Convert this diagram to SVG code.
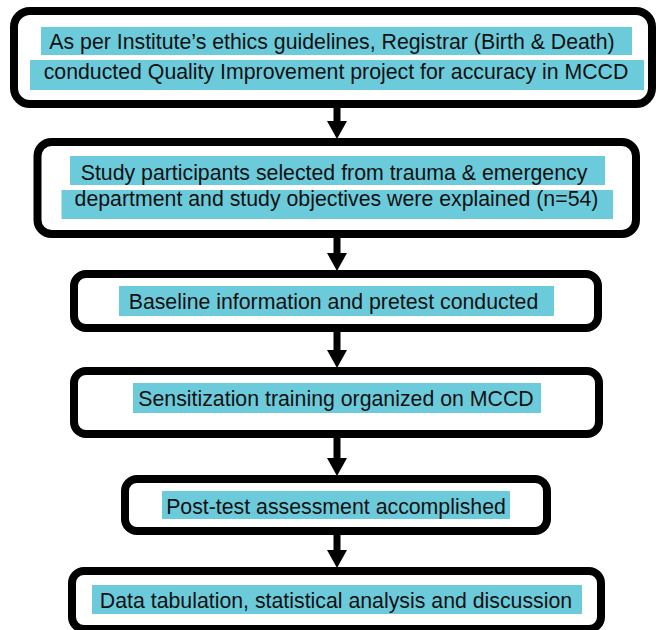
<svg xmlns="http://www.w3.org/2000/svg" width="656" height="630" viewBox="0 0 656 630">
<style>
.box{fill:#fff;stroke:#000;stroke-width:8}
.hl{fill:#6CCBDB}
.t{font-family:"Liberation Sans",Arial,sans-serif;font-size:21.3px;fill:#111;text-anchor:middle}
.shaft{stroke:#000;stroke-width:7;fill:none}
.head{fill:#000}
</style>
<rect width="656" height="630" fill="#fff"/>
<g id="connectors">
<line class="shaft" x1="337" y1="106" x2="337" y2="123"/><polygon class="head" points="327,121 347,121 337,139"/>
<line class="shaft" x1="337" y1="236" x2="337" y2="255"/><polygon class="head" points="327,253 347,253 337,271"/>
<line class="shaft" x1="337" y1="330" x2="337" y2="352"/><polygon class="head" points="327,350 347,350 337,368"/>
<line class="shaft" x1="337" y1="436" x2="337" y2="460"/><polygon class="head" points="327,458 347,458 337,476"/>
<line class="shaft" x1="337" y1="533" x2="337" y2="552"/><polygon class="head" points="327,550 347,550 337,568"/>
</g>
<g id="n1">
<rect class="box" x="14" y="11" width="638" height="93" rx="16"/>
<rect class="hl" x="41" y="27" width="591" height="28"/>
<rect class="hl" x="30" y="60" width="614" height="30"/>
<text class="t" x="332" y="49">As per Institute’s ethics guidelines, Registrar (Birth &amp; Death)</text>
<text class="t" x="336" y="79">conducted Quality Improvement project for accuracy in MCCD</text>
</g>
<g id="n2">
<rect class="box" x="37.5" y="142" width="598.5" height="92" rx="14"/>
<rect class="hl" x="70" y="156" width="535" height="29"/>
<rect class="hl" x="61.5" y="190" width="551.5" height="29"/>
<text class="t" x="334" y="180">Study participants selected from trauma &amp; emergency</text>
<text class="t" x="336.5" y="206">department and study objectives were explained (n=54)</text>
</g>
<g id="n3">
<rect class="box" x="74" y="274" width="524" height="54" rx="12"/>
<rect class="hl" x="119" y="286" width="435" height="30"/>
<text class="t" x="333.5" y="309">Baseline information and pretest conducted</text>
</g>
<g id="n4">
<rect class="box" x="74" y="371" width="525" height="63" rx="12"/>
<rect class="hl" x="133" y="383" width="408" height="30"/>
<text class="t" x="336" y="406">Sensitization training organized on MCCD</text>
</g>
<g id="n5">
<rect class="box" x="125" y="479" width="422" height="52" rx="12"/>
<rect class="hl" x="162" y="491" width="348" height="28"/>
<text class="t" x="336" y="514">Post-test assessment accomplished</text>
</g>
<g id="n6">
<rect class="box" x="72" y="571" width="529" height="58" rx="12"/>
<rect class="hl" x="92" y="585" width="490" height="29"/>
<text class="t" x="336" y="608">Data tabulation, statistical analysis and discussion</text>
</g>
</svg>
